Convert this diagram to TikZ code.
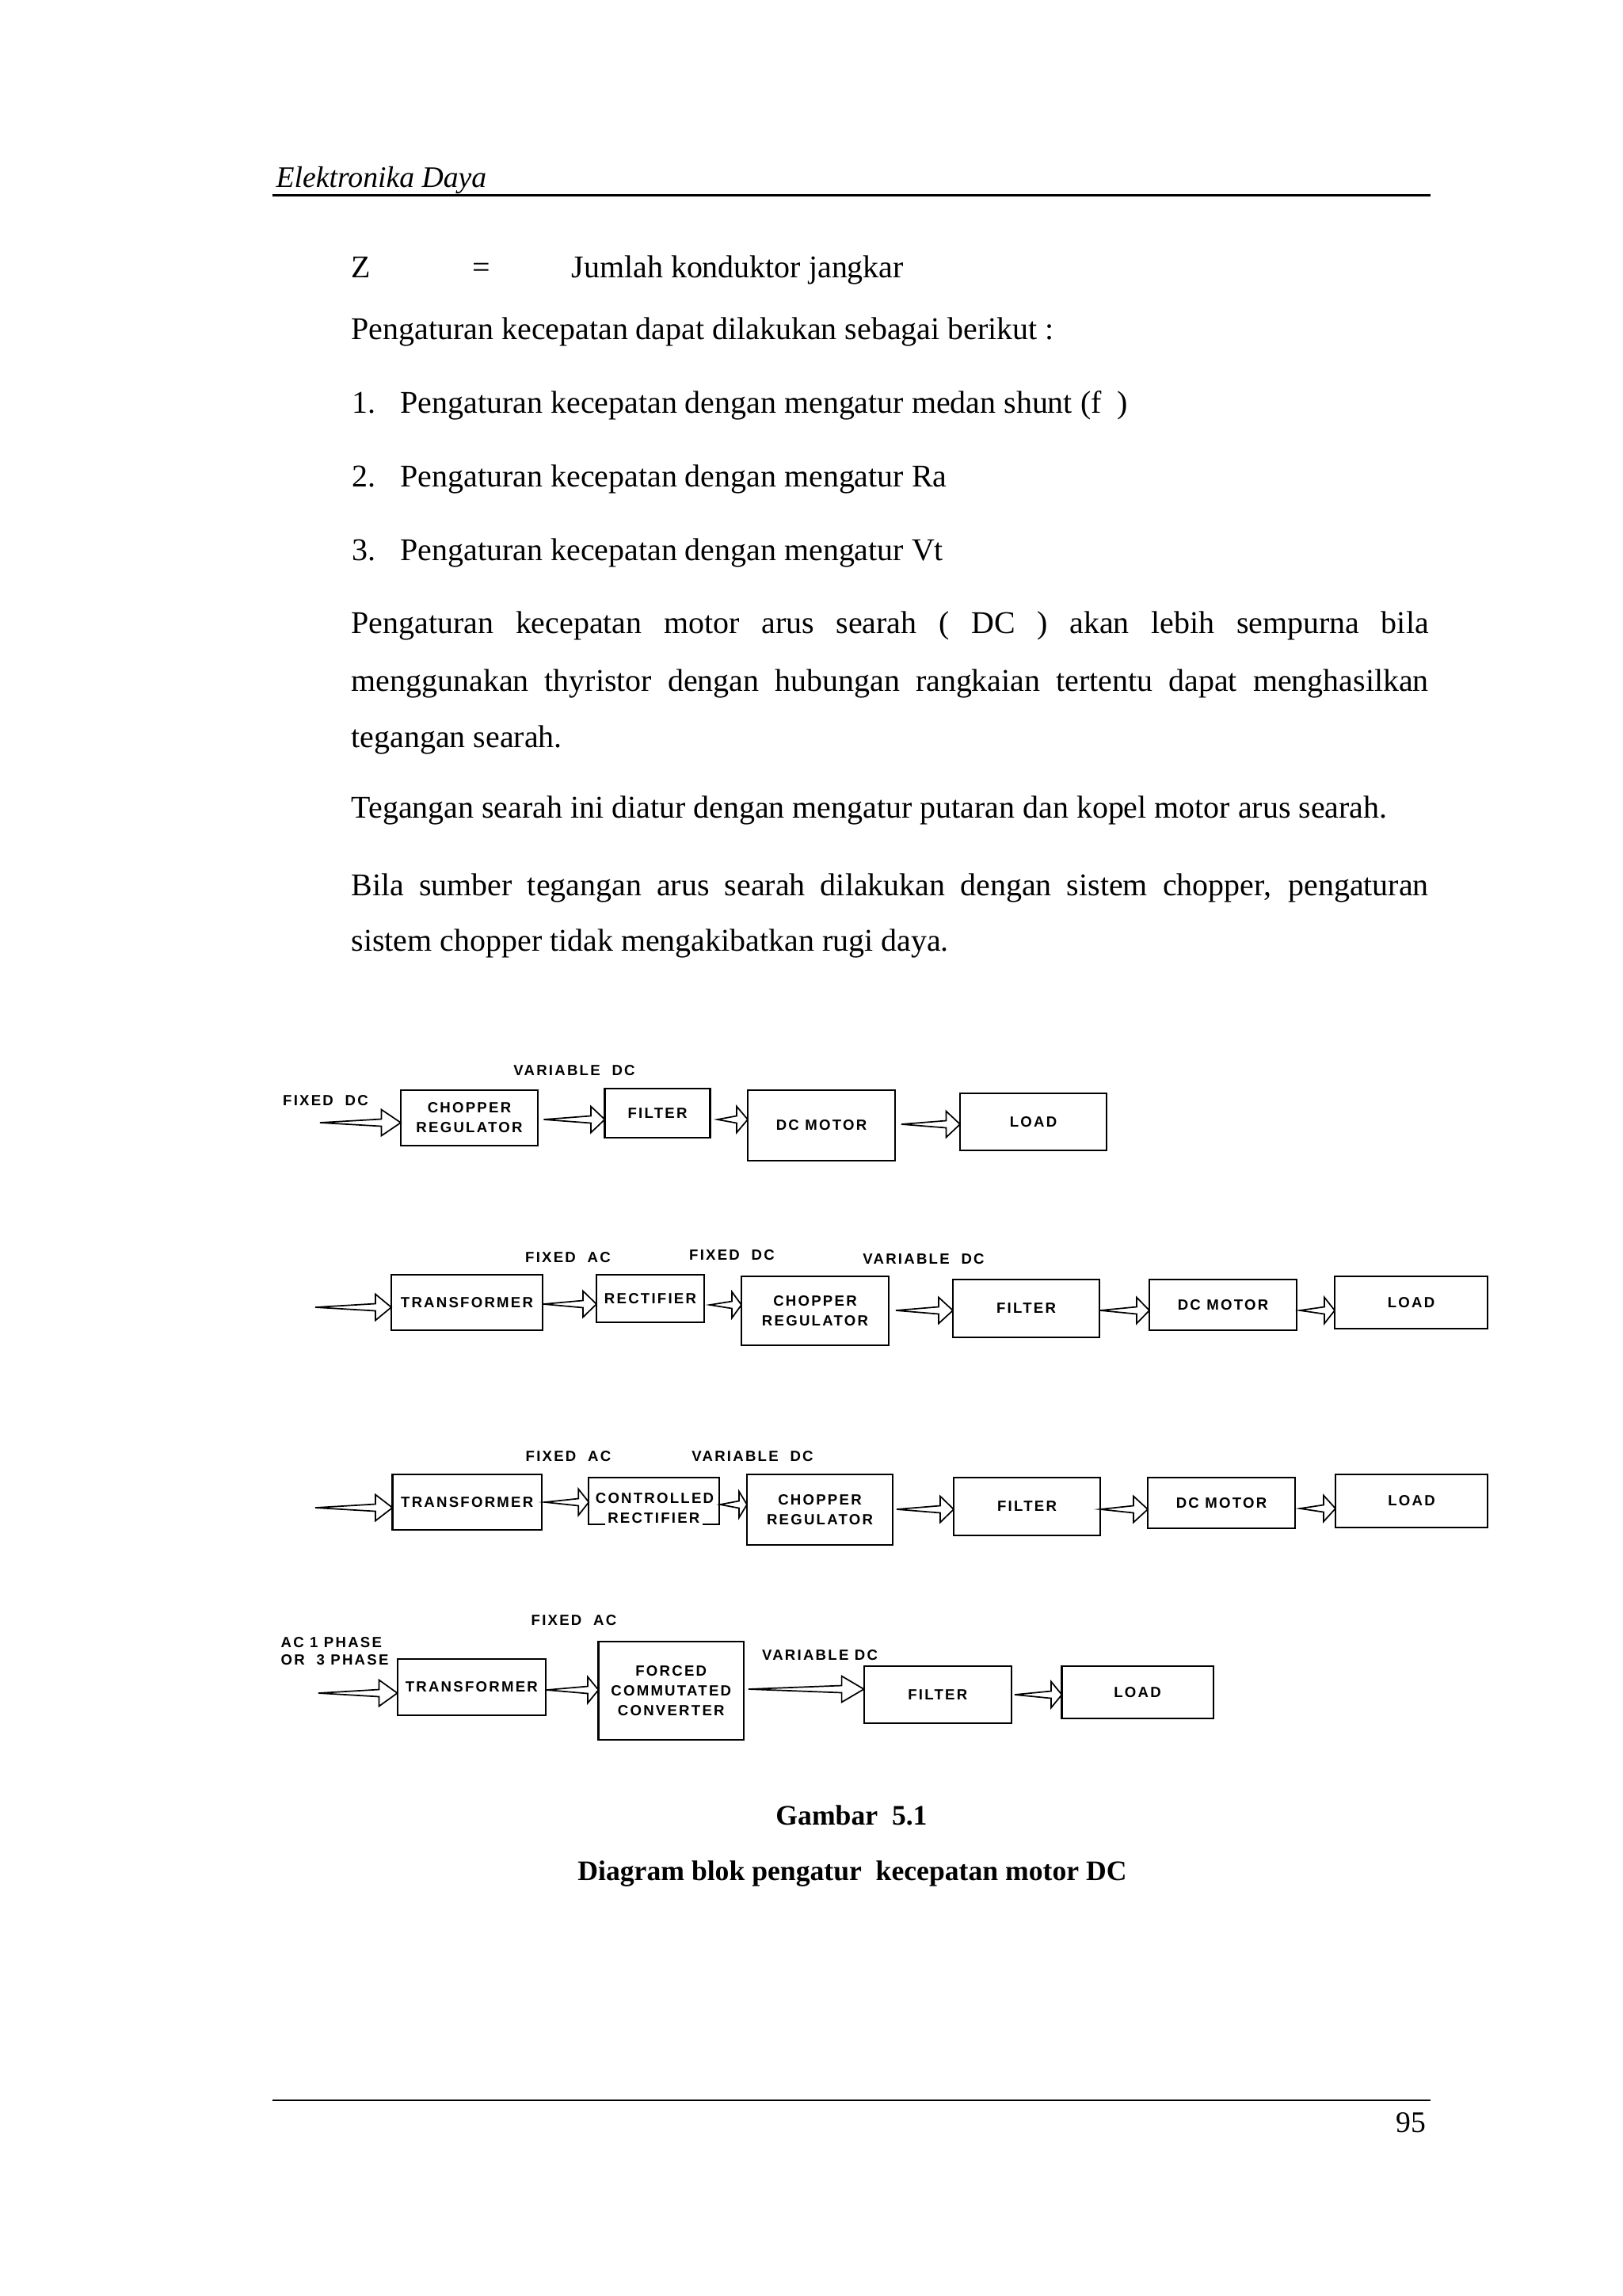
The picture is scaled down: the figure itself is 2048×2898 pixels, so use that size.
\documentclass[tikz,border=0pt]{standalone}
\usepackage{fontspec}
\setmainfont{Liberation Serif}
\newfontfamily\diagfont[LetterSpace=12]{Liberation Sans}
\newcommand\dfont{\diagfont\bfseries\fontsize{5.43pt}{7.3pt}\selectfont}
\newcommand\bfnt{\fontsize{11.65pt}{14pt}\selectfont}
\newcommand\blk[6]{\node[blk, minimum width={(#4-#2)*0.29175pt}, minimum height={(#5-#3)*0.29175pt}] (#1) at ({(#2+#4)/2},{(#3+#5)/2}) {#6};}
\newcommand\harrow[3]{\coordinate (#1tip) at (#2.west |- #1);
  \draw[farr] (#1) -- ([shift={(-#3,-4.5)}]#1tip) -- ([shift={(-#3,-16.5)}]#1tip) -- (#1tip) -- ([shift={(-#3,16.5)}]#1tip) -- ([shift={(-#3,4.5)}]#1tip) -- cycle;}
\tikzset{
  blk/.style={draw, line width=0.6pt, inner sep=0pt, outer sep=0pt, align=center, font=\dfont},
  lbl/.style={inner sep=0pt, font=\dfont},
  farr/.style={draw, fill=white, line width=0.5pt, line join=miter},
  body/.style={anchor=base west, inner sep=0pt, font=\bfnt},
  rule/.style={line width=0.65pt}
}
\begin{document}
\begin{tikzpicture}[x=0.29175pt, y=-0.29175pt]
\fill[white] (0,0) rectangle (2048,2898);
\useasboundingbox (0,0) rectangle (2048,2898);

% header
\node[anchor=base west, inner sep=0pt, font=\fontsize{11pt}{13pt}\selectfont\itshape] (hdr) at (348,236) {Elektronika Daya};
\coordinate (hr1) at (344,246.5); \coordinate (hr2) at (1806,246.5);
\draw[rule] (hr1) -- (hr2);

% body text
\node[body] (z1) at (443,350) {Z};
\node[body] (z2) at (596,350) {=};
\node[body] (z3) at (721,350) {Jumlah konduktor jangkar};
\node[body] (p0) at (443,428) {Pengaturan kecepatan dapat dilakukan sebagai berikut :};
\node[body] (n1) at (443.5,521) {1.};
\node[body] (i1) at (505,521) {Pengaturan kecepatan dengan mengatur medan shunt (f\ \ )};
\node[body] (n2) at (443.5,614) {2.};
\node[body] (i2) at (505,614) {Pengaturan kecepatan dengan mengatur Ra};
\node[body] (n3) at (443.5,707) {3.};
\node[body] (i3) at (505,707) {Pengaturan kecepatan dengan mengatur Vt};
\node[body] (q1) at (443,799) {\makebox[396.8pt][s]{Pengaturan kecepatan motor arus searah ( DC ) akan lebih sempurna bila}};
\node[body] (q2) at (443,872) {\makebox[396.8pt][s]{menggunakan thyristor dengan hubungan rangkaian tertentu dapat menghasilkan}};
\node[body] (q3) at (443,943) {tegangan searah.};
\node[body] (q4) at (443,1032) {Tegangan searah ini diatur dengan mengatur putaran dan kopel motor arus searah.};
\node[body] (q5) at (443,1130) {\makebox[396.8pt][s]{Bila sumber tegangan arus searah dilakukan dengan sistem chopper, pengaturan}};
\node[body] (q6) at (443,1200) {sistem chopper tidak mengakibatkan rugi daya.};

% ---------- row 1
\blk{chop1}{506}{1376}{679}{1446}{CHOPPER\\REGULATOR}
\blk{filt1}{763.5}{1374}{896.5}{1436}{FILTER}
\blk{mot1}{944}{1376}{1130}{1465}{DC MOTOR}
\blk{load1}{1212}{1380}{1397}{1452}{LOAD}
\node[lbl] (l11) at (411,1389) {FIXED\ \ DC};
\node[lbl] (l12) at (725,1351) {VARIABLE\ \ DC};
\coordinate (a11) at (404,1417);
\coordinate (a12) at (686.5,1413);
\coordinate (a13) at (905.6,1413);
\coordinate (a14) at (1138,1419);
\harrow{a11}{chop1}{24.5}
\harrow{a12}{filt1}{17.5}
\harrow{a13}{mot1}{14}
\harrow{a14}{load1}{17.5}

% ---------- row 2
\blk{tr2}{494}{1609}{685}{1679}{TRANSFORMER}
\blk{rec2}{753}{1609}{889}{1669}{RECTIFIER}
\blk{chop2}{936}{1611}{1122}{1698}{CHOPPER\\REGULATOR}
\blk{filt2}{1203}{1615}{1388}{1688}{FILTER}
\blk{mot2}{1451}{1615}{1637}{1679}{DC MOTOR}
\blk{load2}{1685}{1611}{1878}{1677}{LOAD}
\node[lbl] (l21) at (717,1587) {FIXED\ \ AC};
\node[lbl] (l22) at (924,1584) {FIXED\ \ DC};
\node[lbl] (l23) at (1166,1589) {VARIABLE\ \ DC};
\coordinate (a21) at (398,1650);
\coordinate (a22) at (686,1646);
\coordinate (a23) at (896,1647);
\coordinate (a24) at (1131,1654);
\coordinate (a25) at (1389,1654);
\coordinate (a26) at (1641,1654);
\harrow{a21}{tr2}{20}
\harrow{a22}{rec2}{17}
\harrow{a23}{chop2}{12}
\harrow{a24}{filt2}{18}
\harrow{a25}{mot2}{16}
\harrow{a26}{load2}{13}

% ---------- row 3
\blk{tr3}{495.5}{1861}{684}{1931}{TRANSFORMER}
\blk{cr3}{743.3}{1865}{907.7}{1924}{}
\node[lbl] (cr3a) at (826.5,1891.5) {CONTROLLED};
\node[lbl, fill=white, inner xsep=1pt, inner ysep=1pt] (cr3b) at (825.3,1916) {RECTIFIER};
\blk{chop3}{943}{1861}{1127}{1950}{CHOPPER\\REGULATOR}
\blk{filt3}{1204}{1865}{1389}{1938}{FILTER}
\blk{mot3}{1449}{1865}{1635}{1929}{DC MOTOR}
\blk{load3}{1686}{1861}{1878}{1928}{LOAD}
\node[lbl] (l31) at (717.5,1838) {FIXED\ \ AC};
\node[lbl] (l32) at (950,1838) {VARIABLE\ \ DC};
\coordinate (a31) at (398,1903);
\coordinate (a32) at (688,1896);
\coordinate (a33) at (909,1899);
\coordinate (a34) at (1132,1905);
\coordinate (a35) at (1389,1905);
\coordinate (a36) at (1641,1904);
\harrow{a31}{tr3}{21.5}
\harrow{a32}{cr3}{13}
\harrow{a33}{chop3}{10}
\harrow{a34}{filt3}{17}
\harrow{a35}{mot3}{18}
\harrow{a36}{load3}{15}

% ---------- row 4
\blk{tr4}{501.6}{2094}{689}{2165}{TRANSFORMER}
\blk{fcc4}{755.5}{2072}{939}{2196}{FORCED\\COMMUTATED\\CONVERTER}
\blk{filt4}{1090.6}{2103}{1277}{2175}{FILTER}
\blk{load4}{1340.5}{2103}{1531.6}{2169}{LOAD}
\node[lbl, anchor=west] (l41) at (354,2073) {AC 1 PHASE};
\node[lbl, anchor=west] (l42) at (354,2095) {OR\ \ 3 PHASE};
\node[lbl] (l43) at (724.5,2045) {FIXED\ \ AC};
\node[lbl] (l44) at (1035,2089) {VARIABLE DC};
\coordinate (a41) at (402,2137);
\coordinate (a42) at (690,2133);
\coordinate (a43) at (945,2132);
\coordinate (a44) at (1281,2139);
\harrow{a41}{tr4}{23}
\harrow{a42}{fcc4}{13.5}
\harrow{a43}{filt4}{28}
\harrow{a44}{load4}{13.5}

% caption
\node[anchor=base, inner sep=0pt, font=\fontsize{10.4pt}{12pt}\selectfont\bfseries] (cap1) at (1075,2303) {Gambar\ \ 5.1};
\node[anchor=base, inner sep=0pt, font=\fontsize{10.4pt}{12pt}\selectfont\bfseries] (cap2) at (1076,2373) {Diagram blok pengatur\ \ kecepatan motor DC};

% footer
\coordinate (fr1) at (344,2651); \coordinate (fr2) at (1806,2651);
\draw[rule] (fr1) -- (fr2);
\node[anchor=base east, inner sep=0pt, font=\fontsize{11pt}{13pt}\selectfont] (pg) at (1801,2691.5) {95};
\end{tikzpicture}
\end{document}
